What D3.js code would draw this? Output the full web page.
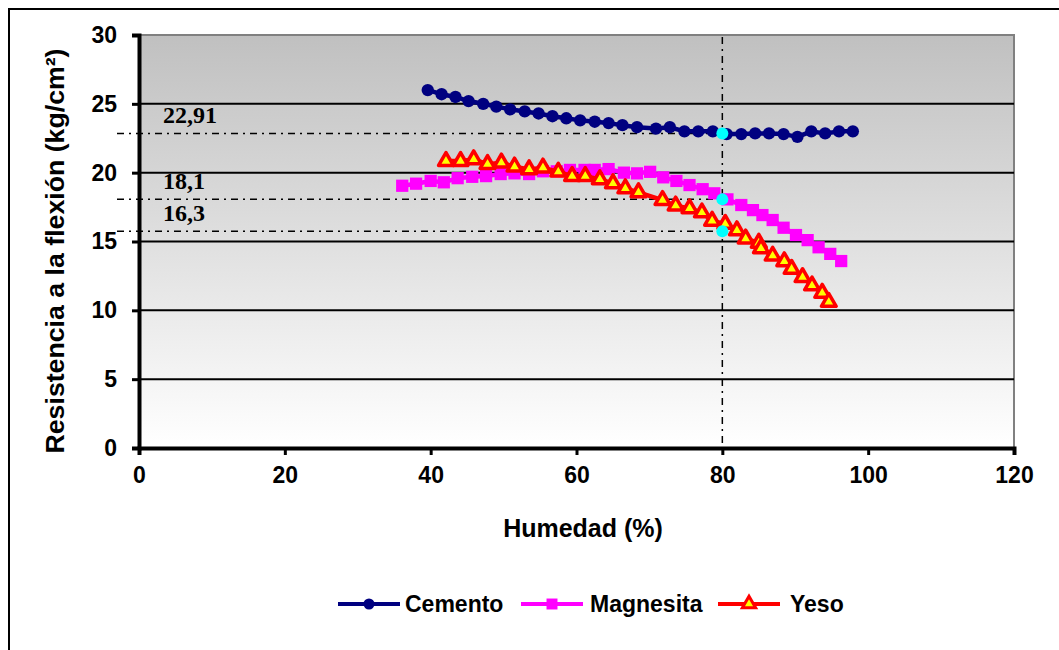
<!DOCTYPE html>
<html>
<head>
<meta charset="utf-8">
<script src="https://cdn.jsdelivr.net/npm/d3@7"></script>
<style>
  body { margin: 0; background: #fff; }
  text { font-family: "Liberation Sans", Arial, sans-serif; font-weight: bold; }
  text.ref { font-family: "Liberation Serif", "Times New Roman", serif; }
</style>
</head>
<body>
<svg id="chart" width="1059" height="650"></svg>
<script>
/*************************Data********************* */
const cementoX = [39.6, 41.5, 43.4, 45.2, 47.2, 49.0, 50.9, 52.9, 54.8, 56.7, 58.6, 60.5, 62.5, 64.4, 66.3, 68.3, 70.9, 72.8, 74.8, 76.7, 78.7, 80.6, 82.6, 84.5, 86.4, 88.4, 90.3, 92.2, 94.1, 96.0, 97.9];
const cementoY = [26.0, 25.7, 25.5, 25.2, 25.0, 24.8, 24.6, 24.45, 24.3, 24.1, 23.95, 23.8, 23.7, 23.6, 23.45, 23.3, 23.2, 23.3, 23.0, 23.0, 23.0, 22.8, 22.8, 22.85, 22.85, 22.8, 22.6, 23.0, 22.85, 23.0, 23.0];

const magnesitaX = [36.1, 38.0, 40.0, 41.8, 43.7, 45.7, 47.6, 49.6, 51.5, 53.5, 55.4, 57.3, 59.1, 61.1, 62.5, 64.4, 66.5, 68.3, 70.1, 71.9, 73.7, 75.5, 77.3, 78.9, 80.7, 82.6, 84.2, 85.5, 86.9, 88.4, 90.1, 91.7, 93.2, 94.8, 96.3];
const magnesitaY = [19.05, 19.2, 19.4, 19.3, 19.6, 19.7, 19.75, 19.9, 19.95, 19.9, 20.1, 20.1, 20.2, 20.2, 20.2, 20.26, 20.0, 19.95, 20.06, 19.66, 19.4, 19.1, 18.8, 18.5, 18.06, 17.65, 17.28, 16.92, 16.56, 16.0, 15.47, 15.1, 14.58, 14.1, 13.58];

const yesoX = [42.1, 44.1, 45.9, 47.8, 49.7, 51.5, 53.5, 55.4, 57.5, 59.4, 61.2, 63.2, 65.0, 66.7, 68.5, 71.8, 73.6, 75.5, 77.2, 78.6, 80.4, 82.0, 83.2, 85.0, 85.3, 86.9, 88.5, 89.5, 91.0, 92.3, 93.7, 94.6];
const yesoY = [20.84, 20.84, 20.96, 20.62, 20.72, 20.43, 20.24, 20.36, 20.06, 19.75, 19.75, 19.51, 19.22, 18.85, 18.57, 18.0, 17.6, 17.4, 17.1, 16.5, 16.27, 15.8, 15.2, 14.9, 14.5, 13.96, 13.55, 13.0, 12.4, 11.8, 11.26, 10.6];

// reference marks read at 80 % humidity
const refX = 80;
const refY = [22.85, 18.06, 15.75];
const refLabels = ["22,91", "18,1", "16,3"];

const xTicks = [0, 20, 40, 60, 80, 100, 120];
const yTicks = [0, 5, 10, 15, 20, 25, 30];
const seriesNames = ["Cemento", "Magnesita", "Yeso"];

/*************************Scales********************* */
const plotLeft = 139, plotRight = 1014, plotTop = 35, plotBottom = 448;
const svg = d3.select("svg#chart");
const x = d3.scaleLinear().domain([0, 120]).range([plotLeft, plotRight]);
const y = d3.scaleLinear().domain([0, 30]).range([plotBottom, plotTop]);

// outer frame
svg.append("rect").attr("x", 9).attr("y", 9).attr("width", 1100).attr("height", 700)
  .attr("fill", "none").attr("stroke", "#000").attr("stroke-width", 2);

// plot background gradient
const grad = svg.append("defs").append("linearGradient").attr("id", "bg")
  .attr("x1", 0).attr("y1", 0).attr("x2", 0).attr("y2", 1);
grad.append("stop").attr("offset", "0%").attr("stop-color", "#c0c0c0");
grad.append("stop").attr("offset", "100%").attr("stop-color", "#ffffff");
svg.append("rect").attr("x", plotLeft).attr("y", plotTop).attr("width", plotRight - plotLeft).attr("height", plotBottom - plotTop)
  .attr("fill", "url(#bg)").attr("stroke", "#808080").attr("stroke-width", 2);

// grid lines
svg.append("g").selectAll("line").data(yTicks.filter((d) => d > 0 && d < 30)).join("line")
  .attr("x1", plotLeft).attr("x2", plotRight).attr("y1", (d) => y(d)).attr("y2", (d) => y(d))
  .attr("stroke", "#000").attr("stroke-width", 2);

/*************************Axes********************* */
const yAxis = d3.axisLeft(y).tickValues(yTicks).tickSize(7).tickPadding(15).tickFormat(d3.format("d"));
const gy = svg.append("g").attr("transform", `translate(${plotLeft},0)`).call(yAxis);
gy.select(".domain").attr("stroke-width", 4);
gy.selectAll(".tick line").attr("stroke-width", 3);
gy.selectAll(".tick text").attr("font-size", 23).attr("font-family", null).attr("fill", "#000");

const xAxis = d3.axisBottom(x).tickValues(xTicks).tickSize(7).tickPadding(12).tickFormat(d3.format("d"));
const gx = svg.append("g").attr("transform", `translate(0,${plotBottom})`).call(xAxis);
gx.select(".domain").attr("stroke-width", 4);
gx.selectAll(".tick line").attr("stroke-width", 3);
gx.selectAll(".tick text").attr("font-size", 23).attr("font-family", null).attr("fill", "#000");

svg.append("text").text("Humedad (%)").attr("x", 583).attr("y", 537).attr("text-anchor", "middle")
  .attr("font-size", 25);
svg.append("text").text("Resistencia a la flexión (kg/cm²)").attr("text-anchor", "middle")
  .attr("font-size", 25).attr("textLength", 405).attr("lengthAdjust", "spacingAndGlyphs")
  .attr("transform", "translate(64,251) rotate(-90)");

/*************************Reference lines********************* */
const dash = "7,5,2,5";
svg.append("g").selectAll("line").data(refY).join("line")
  .attr("x1", 117).attr("x2", x(refX)).attr("y1", (d) => y(d)).attr("y2", (d) => y(d))
  .attr("stroke", "#000").attr("stroke-width", 1.5).attr("stroke-dasharray", dash);
svg.append("line").attr("x1", x(refX)).attr("x2", x(refX)).attr("y1", plotTop + 2).attr("y2", plotBottom)
  .attr("stroke", "#000").attr("stroke-width", 1.5).attr("stroke-dasharray", dash);
svg.append("g").selectAll("text").data(refY).join("text").attr("class", "ref")
  .text((d, i) => refLabels[i]).attr("x", x(3.3)).attr("y", (d) => y(d) - 10)
  .attr("font-size", 24).attr("fill", "#000");

/*************************Series********************* */
const line = d3.line().x((d) => x(d[0])).y((d) => y(d[1]));
const zip = (a, b) => a.map((v, i) => [v, b[i]]);
const series = [
  { name: seriesNames[0], pts: zip(cementoX, cementoY), color: "#000080", sym: d3.symbolCircle, size: 120, fill: "#000080" },
  { name: seriesNames[1], pts: zip(magnesitaX, magnesitaY), color: "#ff00ff", sym: d3.symbolSquare, size: 150, fill: "#ff00ff" },
  { name: seriesNames[2], pts: zip(yesoX, yesoY), color: "#ff0000", sym: d3.symbolTriangle, size: 95, fill: "#ffff00" },
];

series.forEach((s) => {
  const g = svg.append("g");
  g.append("path").datum(s.pts).attr("d", line).attr("fill", "none")
    .attr("stroke", s.color).attr("stroke-width", 4.5).attr("stroke-linejoin", "round");
  g.selectAll("path.m").data(s.pts).join("path").attr("class", "m")
    .attr("d", d3.symbol().type(s.sym).size(s.size))
    .attr("transform", (d) => `translate(${x(d[0])},${y(d[1])})`)
    .attr("fill", s.fill).attr("stroke", s.color).attr("stroke-width", s.sym === d3.symbolTriangle ? 3.5 : 0)
    .attr("stroke-linejoin", "round");
});

// cyan points
svg.append("g").selectAll("circle").data(refY).join("circle")
  .attr("cx", x(refX)).attr("cy", (d) => y(d)).attr("r", 6).attr("fill", "#00ffff");

/*************************Legend********************* */
const legendPos = [{ x0: 338, tx: 405 }, { x0: 521, tx: 590 }, { x0: 718, tx: 790 }];
const leg = svg.append("g").attr("transform", "translate(0,604)");
series.forEach((s, i) => {
  const p = legendPos[i];
  leg.append("line").attr("x1", p.x0).attr("x2", p.x0 + 62).attr("y1", 0).attr("y2", 0)
    .attr("stroke", s.color).attr("stroke-width", 4);
  leg.append("path").attr("d", d3.symbol().type(s.sym).size(s.size * 0.8))
    .attr("transform", `translate(${p.x0 + 31},0)`)
    .attr("fill", s.fill).attr("stroke", s.color).attr("stroke-width", s.sym === d3.symbolTriangle ? 3 : 0);
  leg.append("text").text(s.name).attr("x", p.tx).attr("y", 8).attr("font-size", 23);
});
</script>
</body>
</html>
